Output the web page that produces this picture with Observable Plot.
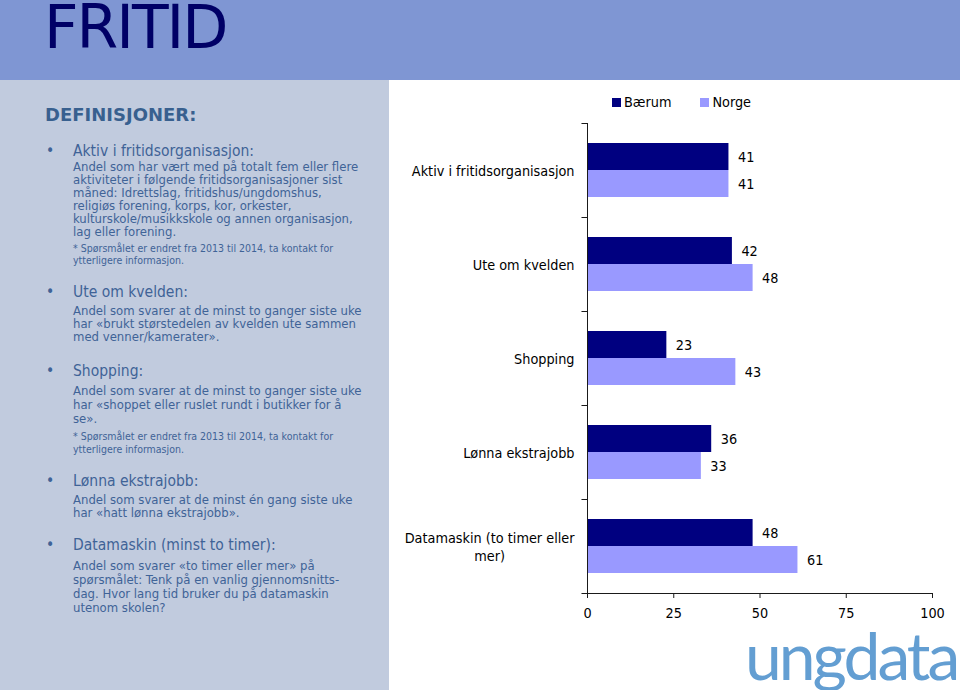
<!DOCTYPE html>
<html><head><meta charset="utf-8">
<script src="https://cdn.jsdelivr.net/npm/d3@7"></script>
<script src="https://cdn.jsdelivr.net/npm/@observablehq/plot@0.6"></script>
<style>
html,body{margin:0;padding:0;}
body{width:960px;height:690px;overflow:hidden;position:relative;background:#fff;font-family:"DejaVu Sans Condensed","DejaVu Sans",sans-serif;}
#header{position:absolute;left:0;top:0;width:960px;height:80px;background:#7F96D3;}
#title{position:absolute;left:44px;top:1px;font-family:"DejaVu Sans",sans-serif;font-size:60px;line-height:52px;height:52px;color:#000066;letter-spacing:-2px;white-space:nowrap;}
#panel{position:absolute;left:0;top:80px;width:389px;height:610px;background:#C1CBDE;}
.ln{position:absolute;white-space:nowrap;color:#3F6397;}
#defs{position:absolute;left:45px;font-family:"DejaVu Sans",sans-serif;font-weight:bold;font-size:18px;color:#38608F;white-space:nowrap;}
#chart{position:absolute;left:390px;top:80px;}
#legend{position:absolute;left:612px;top:86px;}
#legend div.lg-swatches{font-family:"DejaVu Sans Condensed","DejaVu Sans",sans-serif;font-size:14.3px;color:#000;min-height:32px;}
#legend div.lg-swatches span.lg-swatch{margin-right:29px;}
#legend div.lg-swatches span.lg-swatch svg{margin-right:3px;}
#logo{position:absolute;left:745px;top:630px;font-family:Lato,sans-serif;font-weight:400;font-size:66px;line-height:50px;height:60px;color:#639ED2;letter-spacing:-3px;white-space:nowrap;}
</style>
</head>
<body>
<div id="header"><div id="title">FRITID</div></div>
<div id="panel"></div>
<div id="chart"></div>
<div id="legend"></div>
<div id="logo">ungdata</div>
<script>
// ---- chart data ----
const categories = ["Aktiv i fritidsorganisasjon", "Ute om kvelden", "Shopping", "Lønna ekstrajobb", "Datamaskin (to timer eller mer)"];
const categoryLabels = ["Aktiv i fritidsorganisasjon", "Ute om kvelden", "Shopping", "Lønna ekstrajobb", "Datamaskin (to timer eller\nmer)"];
const series = ["Bærum", "Norge"];
const baerum = [41, 42, 23, 36, 48];
const norge = [41, 48, 43, 33, 61];
const xTicks = [0, 25, 50, 75, 100];
const seriesColors = ["#000080", "#9999FF"];

// ---- definitions text (left panel) ----
const defHeadings = ["Aktiv i fritidsorganisasjon:", "Ute om kvelden:", "Shopping:", "Lønna ekstrajobb:", "Datamaskin (minst to timer):"];
const defBodies = [
  ["Andel som har vært med på totalt fem eller flere", "aktiviteter i følgende fritidsorganisasjoner sist", "måned: Idrettslag, fritidshus/ungdomshus,", "religiøs forening, korps, kor, orkester,", "kulturskole/musikkskole og annen organisasjon,", "lag eller forening."],
  ["Andel som svarer at de minst to ganger siste uke", "har «brukt størstedelen av kvelden ute sammen", "med venner/kamerater»."],
  ["Andel som svarer at de minst to ganger siste uke", "har «shoppet eller ruslet rundt i butikker for å", "se»."],
  ["Andel som svarer at de minst én gang siste uke", "har «hatt lønna ekstrajobb»."],
  ["Andel som svarer «to timer eller mer» på", "spørsmålet: Tenk på en vanlig gjennomsnitts-", "dag. Hvor lang tid bruker du på datamaskin", "utenom skolen?"]
];
const defNotes = [
  ["* Spørsmålet er endret fra 2013 til 2014, ta kontakt for", "ytterligere informasjon."],
  [],
  ["* Spørsmålet er endret fra 2013 til 2014, ta kontakt for", "ytterligere informasjon."],
  [],
  []
];
const headingY = [151, 292, 371, 481, 545];
const bodyY = [[167, 180, 193, 206, 219, 232], [311, 324, 337], [391, 405, 419], [500, 513], [566, 580, 594, 608]];
const noteY = [[248, 260], [], [436, 449], [], []];

function addLine(text, cy, size, left) {
  const d = document.createElement("div");
  d.className = "ln";
  const lh = Math.round(size * 1.25);
  d.style.left = left + "px";
  d.style.top = (cy - lh / 2) + "px";
  d.style.fontSize = size + "px";
  d.style.lineHeight = lh + "px";
  d.textContent = text;
  document.body.appendChild(d);
}
{
  const defs = document.createElement("div");
  defs.id = "defs";
  defs.style.top = (115 - 12) + "px";
  defs.style.lineHeight = "24px";
  defs.textContent = "DEFINISJONER:";
  document.body.appendChild(defs);
  defHeadings.forEach((h, i) => {
    addLine("•", headingY[i], 15.5, 46);
    addLine(h, headingY[i], 15.5, 73);
    defBodies[i].forEach((t, j) => addLine(t, bodyY[i][j], 13, 73));
    defNotes[i].forEach((t, j) => addLine(t, noteY[i][j], 10.5, 73));
  });
}

// ---- chart ----
const rows = categories.flatMap((c, i) => [
  {category: c, series: series[0], value: baerum[i]},
  {category: c, series: series[1], value: norge[i]}
]);
const rowsB = rows.filter(d => d.series === series[0]);
const rowsN = rows.filter(d => d.series === series[1]);
const font = '"DejaVu Sans Condensed","DejaVu Sans",sans-serif';

const chart = Plot.plot({
  width: 570,
  height: 610,
  marginLeft: 197,
  marginRight: 28,
  marginTop: 43,
  marginBottom: 97,
  x: {domain: [0, 100], label: null},
  y: {domain: categories, padding: 0, axis: null, label: null},
  color: {domain: series, range: seriesColors},
  style: {fontFamily: font, fontSize: "14.3px", color: "#000", background: "transparent", overflow: "visible"},
  marks: [
    Plot.barX(rowsB, {x: "value", y: "category", fill: "series", insetTop: 20, insetBottom: 47}),
    Plot.barX(rowsN, {x: "value", y: "category", fill: "series", insetTop: 47, insetBottom: 20}),
    Plot.text(rowsB, {x: "value", y: "category", text: d => String(d.value), dx: 9, dy: -13.5, textAnchor: "start", fill: "#000"}),
    Plot.text(rowsN, {x: "value", y: "category", text: d => String(d.value), dx: 9, dy: 13.5, textAnchor: "start", fill: "#000"}),
    Plot.text(categories, {y: d => d, text: (d, i) => categoryLabels[i], frameAnchor: "left", textAnchor: "end", dx: -13, lineHeight: 1.2, fill: "#000"}),
    Plot.ruleX([0], {stroke: "#1a1a1a"}),
    Plot.ruleY(categories, {y: d => d, x1: -1.6, x2: 0, dy: -47, stroke: "#1a1a1a"}),
    Plot.ruleY(categories.slice(-1), {y: d => d, x1: -1.6, x2: 100, dy: 47, stroke: "#1a1a1a"}),
    Plot.axisX(xTicks, {anchor: "bottom", tickSize: 5, tickPadding: 9, stroke: "#1a1a1a", fill: "#000", label: null})
  ]
});
document.getElementById("chart").appendChild(chart);

// center the lines of multi-line category labels within their block (right edge kept)
chart.querySelectorAll("text").forEach(t => {
  const spans = t.querySelectorAll("tspan");
  if (spans.length > 1) {
    let w = 0;
    spans.forEach(s => { w = Math.max(w, s.getComputedTextLength()); });
    t.setAttribute("text-anchor", "middle");
    t.style.textAnchor = "middle";
    spans.forEach(s => s.setAttribute("x", -w / 2));
  }
});

const legend = Plot.legend({
  color: {domain: series, range: seriesColors},
  legend: "swatches",
  swatchSize: 9,
  className: "lg"
});
document.getElementById("legend").appendChild(legend);
</script>
</body></html>
